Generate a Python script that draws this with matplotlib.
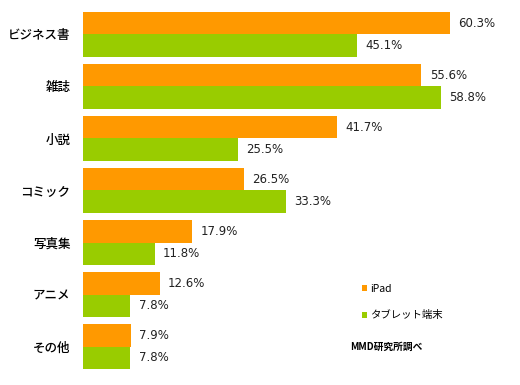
import numpy as np
import matplotlib.pyplot as plt

plt.rcParams['font.family'] = ['Noto Sans CJK JP', 'DejaVu Sans']

categories = ["ビジネス書", "雑誌", "小説", "コミック", "写真集", "アニメ", "その他"]
ipad = [60.3, 55.6, 41.7, 26.5, 17.9, 12.6, 7.9]
tablet = [45.1, 58.8, 25.5, 33.3, 11.8, 7.8, 7.8]
series_names = ["iPad", "タブレット端末"]

orange = "#ff9900"
green = "#99cc00"

fig = plt.figure(figsize=(5.2, 3.85), dpi=100)
ax = fig.add_axes([83 / 520, 0, 1 - 83 / 520, 1])

y = np.arange(len(categories))
h = 0.43
b1 = ax.barh(y - h / 2, ipad, height=h, color=orange, label=series_names[0])
b2 = ax.barh(y + h / 2, tablet, height=h, color=green, label=series_names[1])

for bars, vals in ((b1, ipad), (b2, tablet)):
    for rect, v in zip(bars, vals):
        ax.annotate(f"{v:.1f}%", (v, rect.get_y() + rect.get_height() / 2),
                    xytext=(6, 0), textcoords="offset points",
                    va="center", ha="left", fontsize=8.5, color="#222222",
                    family="DejaVu Sans")

ax.set_xlim(0, 71.8)
ax.set_ylim(6.74, -0.663)
ax.set_yticks(y)
ax.set_yticklabels(categories, fontsize=9, fontweight="medium")
ax.tick_params(axis="y", length=0, pad=9)
ax.set_xticks([])
for s in ax.spines.values():
    s.set_visible(False)

leg = ax.legend(loc="center left", bbox_to_anchor=(362 / 520, 1 - 302 / 385),
                bbox_transform=fig.transFigure, frameon=False, fontsize=7.5,
                handlelength=0.5, handleheight=0.5, handletextpad=0.3,
                labelspacing=1.6, borderpad=0, borderaxespad=0)

fig.text(350 / 520, 1 - 347 / 385, "MMD研究所調べ", fontsize=7, fontweight="bold",
         va="center", ha="left")

fig.savefig("out.png", dpi=100)
